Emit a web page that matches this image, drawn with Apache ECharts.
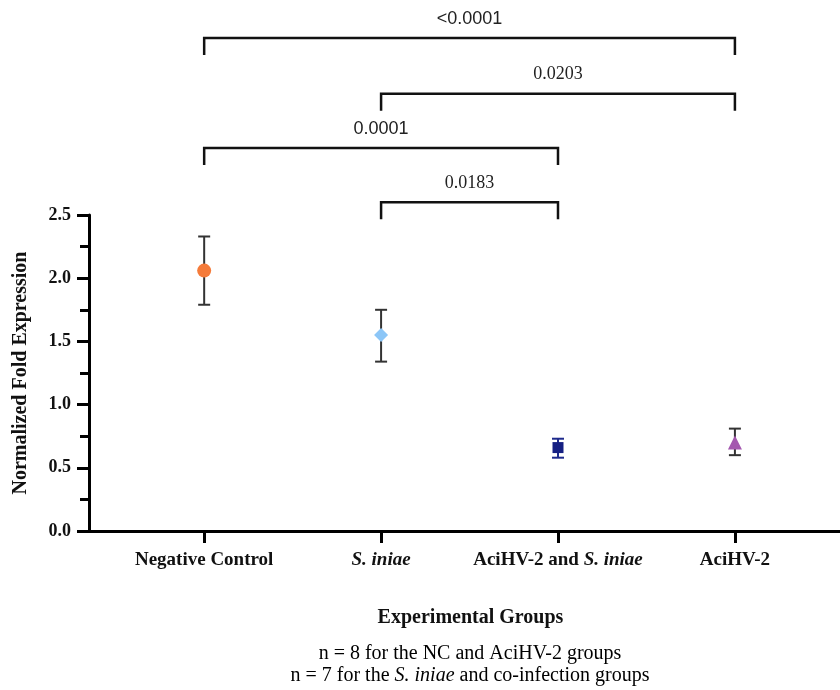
<!DOCTYPE html>
<html>
<head>
<meta charset="utf-8">
<script src="https://cdn.jsdelivr.net/npm/echarts@6/dist/echarts.min.js"></script>
<style>html,body{margin:0;padding:0;background:#fff}#c{width:840px;height:690px}</style>
</head>
<body>
<div id="c"></div>
<script>
// ---- data ----
const categories = ['Negative Control', 'S. iniae', 'AciHV-2 and S. iniae', 'AciHV-2'];
const means = [2.06, 1.55, 0.66, 0.70];
const upper = [2.33, 1.75, 0.73, 0.81];
const lower = [1.79, 1.34, 0.58, 0.60];
const yTicks = [0, 0.5, 1.0, 1.5, 2.0, 2.5];
const bracketFrom = [0, 1, 0, 1];
const bracketTo = [3, 3, 2, 2];
const bracketLevel = [3.9, 3.46, 3.03, 2.6];
const bracketLabel = ['<0.0001', '0.0203', '0.0001', '0.0183'];
const notes = ['n = 8 for the NC and AciHV-2 groups', 'n = 7 for the S. iniae and co-infection groups'];

// ---- styles ----
const markerSymbols = ['circle', 'diamond', 'rect', 'triangle'];
const markerSizes = [14, [14, 14], 11, [14, 14]];
const markerColors = ['#F57B3A', '#8CC6F7', '#162083', '#A457AF'];
const errColors = ['#333333', '#333333', '#1E2A8C', '#333333'];
const bracketFonts = ['"Liberation Sans", Arial, sans-serif', '"Liberation Serif", "Times New Roman", serif',
                      '"Liberation Sans", Arial, sans-serif', '"Liberation Serif", "Times New Roman", serif'];
const SERIF = '"Liberation Serif", "Times New Roman", serif';

const chart = echarts.init(document.getElementById('c'), null, {renderer: 'canvas'});

function richItalic(s, base, ital) {
  return '{' + base + '|' + s.replace(/S\. iniae/g, '}{' + ital + '|S. iniae}{' + base + '|') + '}';
}

const option = {
  backgroundColor: '#ffffff',
  animation: false,
  grid: {left: 89, right: 0, top: 215, bottom: 159, containLabel: false},
  xAxis: {
    type: 'value',
    min: -0.651,
    max: 3.594,
    splitLine: {show: false},
    axisLine: {show: true, onZero: false, lineStyle: {color: '#000', width: 3}},
    axisTick: {show: true, customValues: [0, 1, 2, 3], length: 12, lineStyle: {color: '#000', width: 3}},
    axisLabel: {
      show: true,
      customValues: [0, 1, 2, 3],
      margin: 20,
      formatter: v => richItalic(categories[Math.round(v)], 'b', 'bi'),
      rich: {
        b: {fontFamily: SERIF, fontWeight: 'bold', fontSize: 19, color: '#111'},
        bi: {fontFamily: SERIF, fontWeight: 'bold', fontStyle: 'italic', fontSize: 19, color: '#111'}
      }
    },
    name: 'Experimental Groups',
    nameLocation: 'middle',
    nameGap: 77,
    nameTextStyle: {fontFamily: SERIF, fontWeight: 'bold', fontSize: 20, color: '#111', padding: [0, 0, 0, 12]}
  },
  yAxis: {
    type: 'value',
    min: 0,
    max: 2.5,
    interval: 0.5,
    splitLine: {show: false},
    axisLine: {show: true, onZero: false, lineStyle: {color: '#000', width: 3}},
    axisTick: {show: true, length: 12, lineStyle: {color: '#000', width: 3}},
    minorTick: {show: true, splitNumber: 2, length: 9, lineStyle: {color: '#000', width: 3}},
    axisLabel: {
      margin: 18,
      formatter: v => {
        const t = yTicks.find(k => Math.abs(k - v) < 1e-6);
        return t === undefined ? '' : t.toFixed(1);
      },
      fontFamily: SERIF, fontWeight: 'bold', fontSize: 18, color: '#111'
    },
    name: 'Normalized Fold Expression',
    nameLocation: 'middle',
    nameGap: 58,
    nameTextStyle: {fontFamily: SERIF, fontWeight: 'bold', fontSize: 20, color: '#111'}
  },
  series: [
    {
      type: 'custom',
      name: 'errorbars',
      clip: false,
      data: categories.map((c, i) => [i, lower[i], upper[i]]),
      renderItem: (params, api) => {
        const i = params.dataIndex;
        const x = api.value(0);
        const top = api.coord([x, api.value(2)]);
        const bot = api.coord([x, api.value(1)]);
        const hw = 6;
        const st = {stroke: errColors[i], lineWidth: 2};
        return {
          type: 'group',
          children: [
            {type: 'line', shape: {x1: top[0], y1: top[1], x2: bot[0], y2: bot[1]}, style: st},
            {type: 'line', shape: {x1: top[0] - hw, y1: top[1], x2: top[0] + hw, y2: top[1]}, style: st},
            {type: 'line', shape: {x1: bot[0] - hw, y1: bot[1], x2: bot[0] + hw, y2: bot[1]}, style: st}
          ]
        };
      },
      z: 2
    },
    {
      type: 'scatter',
      name: 'means',
      data: means.map((m, i) => ({
        value: [i, m],
        symbol: markerSymbols[i],
        symbolSize: markerSizes[i],
        itemStyle: {color: markerColors[i], opacity: 1}
      })),
      itemStyle: {opacity: 1},
      z: 3
    },
    {
      type: 'custom',
      name: 'brackets',
      clip: false,
      data: bracketFrom.map((f, i) => [f, bracketTo[i], bracketLevel[i]]),
      renderItem: (params, api) => {
        const i = params.dataIndex;
        const p1 = api.coord([api.value(0), api.value(2)]);
        const p2 = api.coord([api.value(1), api.value(2)]);
        const leg = 17;
        return {
          type: 'group',
          children: [
            {
              type: 'polyline',
              shape: {points: [[p1[0], p1[1] + leg], [p1[0], p1[1]], [p2[0], p2[1]], [p2[0], p2[1] + leg]]},
              style: {stroke: '#111', lineWidth: 2.5, fill: null}
            },
            {
              type: 'text',
              style: {
                text: bracketLabel[i],
                x: (p1[0] + p2[0]) / 2,
                y: p1[1] - 19,
                align: 'center',
                verticalAlign: 'middle',
                fontFamily: bracketFonts[i],
                fontSize: 18,
                fill: '#222'
              }
            }
          ]
        };
      },
      z: 4
    }
  ],
  graphic: notes.map((n, k) => ({
    type: 'text',
    x: 470,
    y: 654 + k * 22,
    style: {
      text: richItalic(n, 'r', 'i'),
      align: 'center',
      verticalAlign: 'middle',
      rich: {
        r: {fontFamily: SERIF, fontSize: 20, color: '#111'},
        i: {fontFamily: SERIF, fontStyle: 'italic', fontSize: 20, color: '#111'}
      }
    }
  }))
};

chart.setOption(option);
</script>
</body>
</html>
